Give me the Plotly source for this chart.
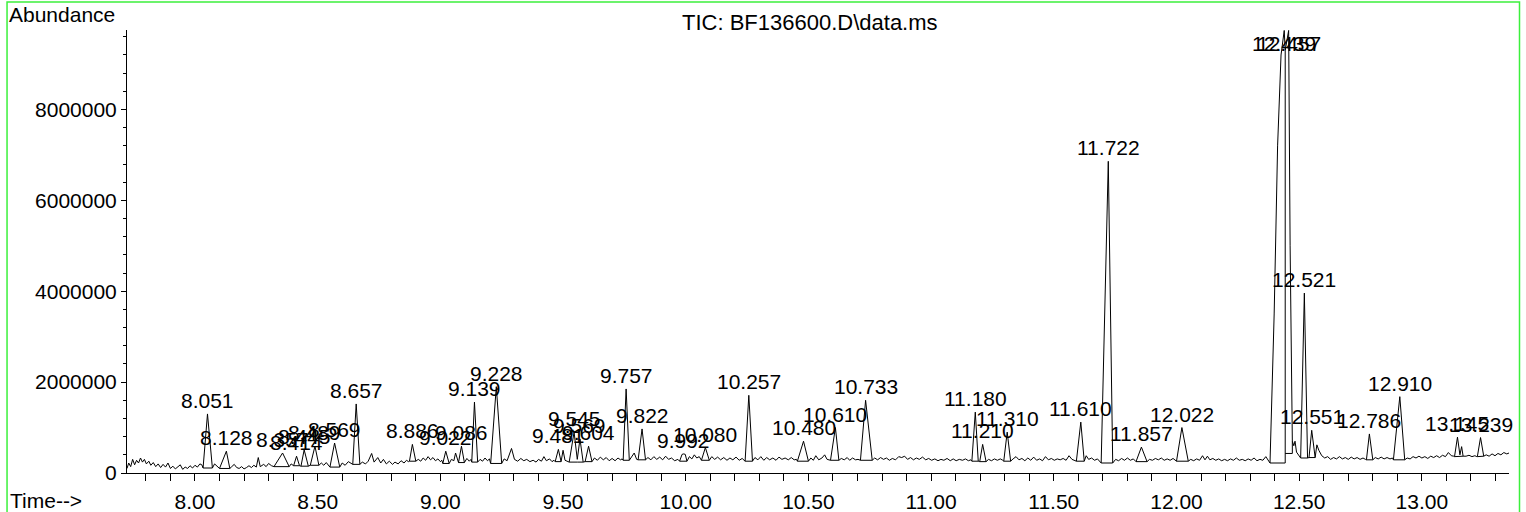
import plotly.graph_objects as go

# ---------------- data ----------------
# TIC trace: retention time (min) and abundance (millions of counts)
time_min = [
    7.723, 7.730, 7.738, 7.746, 7.754, 7.762, 7.770, 7.778, 7.786, 7.794, 7.802, 7.812, 7.820, 7.830, 7.840, 7.850, 7.860, 7.870, 7.880, 7.890,
    7.900, 7.910, 7.920, 7.930, 7.940, 7.950, 7.960, 7.970, 7.980, 7.990, 8.000, 8.010, 8.020, 8.028,
    8.033, 8.051, 8.071, 8.080, 8.090, 8.100, 8.128, 8.142, 8.150, 8.160,
    8.170, 8.180, 8.190, 8.200, 8.210, 8.220, 8.230, 8.240, 8.250, 8.258, 8.266, 8.280, 8.290, 8.300, 8.312,
    8.322, 8.357, 8.384, 8.392, 8.402, 8.414, 8.426, 8.432, 8.445, 8.462, 8.470, 8.489, 8.505,
    8.515, 8.525, 8.535, 8.543, 8.550, 8.569, 8.590, 8.600, 8.612, 8.625, 8.636, 8.643, 8.657, 8.672,
    8.682, 8.695, 8.706, 8.720, 8.730, 8.745, 8.757, 8.768, 8.780, 8.792, 8.805, 8.815, 8.828, 8.840, 8.852, 8.862, 8.870,
    8.874, 8.886, 8.900, 8.910, 8.920, 8.930, 8.940, 8.950, 8.960, 8.970, 8.980, 8.990, 9.000, 9.006,
    9.010, 9.022, 9.036, 9.045, 9.055, 9.062, 9.070, 9.074, 9.086, 9.098, 9.108, 9.118, 9.125,
    9.128, 9.139, 9.152, 9.162, 9.172, 9.182, 9.192, 9.200, 9.205, 9.228, 9.250,
    9.260, 9.272, 9.290, 9.302, 9.315, 9.328, 9.340, 9.352, 9.365, 9.378, 9.390, 9.400, 9.412, 9.422, 9.432, 9.445, 9.455, 9.463,
    9.468, 9.481, 9.492, 9.500, 9.508, 9.525, 9.545, 9.558, 9.569, 9.582, 9.590, 9.604, 9.618,
    9.628, 9.640, 9.652, 9.664, 9.676, 9.688, 9.700, 9.712, 9.724, 9.734, 9.741,
    9.745, 9.757, 9.770, 9.778, 9.790, 9.800, 9.806, 9.822, 9.836,
    9.846, 9.858, 9.870, 9.882, 9.894, 9.906, 9.918, 9.930, 9.942, 9.955, 9.968,
    9.975, 9.985, 9.992, 9.998, 10.005, 10.015, 10.025, 10.035, 10.045, 10.055, 10.061,
    10.064, 10.080, 10.096, 10.106, 10.118, 10.130, 10.142, 10.155, 10.168, 10.180, 10.192, 10.205, 10.218, 10.230, 10.239,
    10.242, 10.257, 10.272, 10.282, 10.294, 10.306, 10.318, 10.330, 10.342, 10.355, 10.368, 10.380, 10.392, 10.405, 10.418, 10.430, 10.442, 10.451,
    10.455, 10.480, 10.500, 10.510, 10.520, 10.530, 10.542, 10.555, 10.566, 10.576, 10.586,
    10.590, 10.610, 10.624, 10.634, 10.646, 10.658, 10.668, 10.680, 10.692, 10.702,
    10.712, 10.733, 10.760, 10.770, 10.782, 10.794, 10.806, 10.818, 10.830, 10.842, 10.855, 10.868, 10.880, 10.892,
    10.904, 10.916, 10.928, 10.940, 10.952, 10.965, 10.978, 10.990, 11.002, 11.015, 11.028, 11.040, 11.052, 11.065,
    11.078, 11.090, 11.102, 11.115, 11.128, 11.140, 11.152, 11.162,
    11.166, 11.180, 11.192, 11.198, 11.210, 11.224, 11.234, 11.246, 11.258, 11.270, 11.282, 11.292,
    11.296, 11.310, 11.324, 11.334, 11.346, 11.358, 11.370, 11.382, 11.394, 11.406, 11.418, 11.430,
    11.442, 11.454, 11.466, 11.478, 11.490, 11.502, 11.514, 11.526, 11.538, 11.550, 11.562, 11.574, 11.584,
    11.592, 11.610, 11.624, 11.632, 11.642, 11.654, 11.666, 11.678, 11.688,
    11.693, 11.722, 11.740, 11.752, 11.764, 11.776, 11.788, 11.800, 11.812, 11.824, 11.832,
    11.835, 11.857, 11.880, 11.890, 11.902, 11.914, 11.926, 11.938, 11.950, 11.962, 11.974, 11.986, 11.996,
    12.000, 12.022, 12.048, 12.058, 12.070, 12.082, 12.094, 12.106, 12.116, 12.126, 12.136, 12.148, 12.160,
    12.172, 12.184, 12.196, 12.208, 12.220, 12.232, 12.244, 12.256, 12.268, 12.280, 12.292, 12.304, 12.316, 12.328, 12.340, 12.352, 12.364, 12.374,
    12.381, 12.398, 12.412, 12.426, 12.439, 12.443, 12.457, 12.463, 12.468, 12.472, 12.478, 12.483, 12.489, 12.497, 12.502,
    12.506, 12.521, 12.534, 12.540, 12.551, 12.565, 12.572, 12.580, 12.592, 12.604, 12.616, 12.628, 12.640,
    12.652, 12.664, 12.676, 12.688, 12.700, 12.712, 12.724, 12.736, 12.748, 12.760, 12.770,
    12.774, 12.786, 12.800, 12.810, 12.822, 12.834, 12.846, 12.858, 12.870, 12.880,
    12.884, 12.910, 12.930, 12.940, 12.952, 12.964, 12.976, 12.988, 13.000, 13.012, 13.024, 13.036,
    13.048, 13.060, 13.072, 13.084, 13.096, 13.108, 13.120, 13.130,
    13.133, 13.145, 13.155, 13.162, 13.168, 13.180, 13.192, 13.204, 13.216, 13.224,
    13.226, 13.239, 13.252, 13.262, 13.274, 13.286, 13.298, 13.310, 13.322, 13.334, 13.346, 13.355,
]
abundance_millions = [
    0.10, 0.22, 0.14, 0.30, 0.18, 0.28, 0.22, 0.33, 0.24, 0.30, 0.20, 0.26, 0.17, 0.23, 0.14, 0.20, 0.12, 0.19, 0.13, 0.22,
    0.10, 0.15, 0.09, 0.14, 0.18, 0.08, 0.13, 0.10, 0.16, 0.11, 0.17, 0.13, 0.20, 0.18,
    0.11, 1.30, 0.11, 0.20, 0.16, 0.10, 0.48, 0.10, 0.14, 0.19,
    0.12, 0.10, 0.14, 0.09, 0.12, 0.16, 0.12, 0.17, 0.13, 0.34, 0.14, 0.19, 0.14, 0.21, 0.16,
    0.14, 0.44, 0.14, 0.20, 0.16, 0.37, 0.16, 0.15, 0.51, 0.15, 0.17, 0.59, 0.17,
    0.22, 0.17, 0.23, 0.18, 0.13, 0.66, 0.13, 0.22, 0.17, 0.25, 0.21, 0.19, 1.52, 0.19,
    0.24, 0.20, 0.26, 0.43, 0.24, 0.34, 0.22, 0.30, 0.20, 0.26, 0.19, 0.24, 0.20, 0.27, 0.22, 0.28, 0.25,
    0.26, 0.63, 0.26, 0.30, 0.26, 0.33, 0.28, 0.36, 0.29, 0.34, 0.27, 0.31, 0.25, 0.28,
    0.21, 0.48, 0.21, 0.30, 0.27, 0.44, 0.27, 0.23, 0.59, 0.23, 0.32, 0.26, 0.30,
    0.24, 1.56, 0.24, 0.30, 0.26, 0.33, 0.27, 0.31, 0.21, 1.90, 0.21,
    0.31, 0.27, 0.54, 0.30, 0.26, 0.32, 0.27, 0.30, 0.25, 0.28, 0.24, 0.30, 0.26, 0.36, 0.27, 0.31, 0.25, 0.28,
    0.25, 0.52, 0.25, 0.50, 0.28, 0.24, 0.90, 0.30, 0.75, 0.24, 0.25, 0.59, 0.25,
    0.33, 0.28, 0.35, 0.29, 0.34, 0.27, 0.32, 0.27, 0.33, 0.29, 0.31,
    0.28, 1.85, 0.28, 0.34, 0.44, 0.30, 0.29, 0.97, 0.29,
    0.34, 0.29, 0.36, 0.30, 0.35, 0.29, 0.37, 0.30, 0.33, 0.27, 0.30,
    0.26, 0.41, 0.42, 0.41, 0.26, 0.36, 0.31, 0.40, 0.33, 0.36, 0.30,
    0.28, 0.56, 0.28, 0.36, 0.30, 0.35, 0.29, 0.34, 0.28, 0.33, 0.29, 0.35, 0.28, 0.32, 0.28,
    0.26, 1.71, 0.26, 0.34, 0.29, 0.36, 0.28, 0.34, 0.29, 0.33, 0.28, 0.35, 0.30, 0.33, 0.29, 0.34, 0.29, 0.30,
    0.26, 0.70, 0.26, 0.33, 0.28, 0.38, 0.29, 0.33, 0.40, 0.30, 0.29,
    0.28, 1.00, 0.28, 0.32, 0.29, 0.34, 0.28, 0.33, 0.29, 0.30,
    0.28, 1.60, 0.28, 0.33, 0.29, 0.34, 0.30, 0.33, 0.28, 0.32, 0.29, 0.36, 0.34, 0.37,
    0.30, 0.34, 0.29, 0.33, 0.30, 0.35, 0.29, 0.32, 0.28, 0.31, 0.27, 0.30, 0.28, 0.32,
    0.27, 0.31, 0.27, 0.30, 0.28, 0.31, 0.27, 0.29,
    0.26, 1.34, 0.26, 0.25, 0.63, 0.25, 0.30, 0.27, 0.31, 0.28, 0.31, 0.28,
    0.26, 0.90, 0.26, 0.31, 0.36, 0.29, 0.32, 0.27, 0.33, 0.28, 0.35, 0.28,
    0.31, 0.27, 0.36, 0.29, 0.32, 0.28, 0.31, 0.29, 0.32, 0.28, 0.38, 0.30, 0.28,
    0.26, 1.12, 0.26, 0.38, 0.30, 0.33, 0.28, 0.31, 0.25,
    0.22, 6.86, 0.22, 0.30, 0.27, 0.32, 0.28, 0.33, 0.28, 0.31, 0.26,
    0.25, 0.57, 0.25, 0.30, 0.28, 0.32, 0.29, 0.33, 0.28, 0.31, 0.28, 0.32, 0.27,
    0.26, 1.00, 0.26, 0.30, 0.27, 0.31, 0.28, 0.38, 0.29, 0.37, 0.29, 0.32, 0.28,
    0.31, 0.27, 0.30, 0.27, 0.31, 0.28, 0.33, 0.28, 0.30, 0.27, 0.31, 0.28, 0.33, 0.27, 0.30, 0.28, 0.36, 0.26,
    0.22, 3.50, 7.20, 9.20, 9.74, 9.30, 9.74, 5.00, 1.50, 0.70, 0.60, 0.70, 0.46, 0.40, 0.35,
    0.33, 3.96, 0.33, 0.34, 0.94, 0.34, 0.62, 0.50, 0.38, 0.33, 0.36, 0.30, 0.34,
    0.31, 0.36, 0.31, 0.34, 0.30, 0.35, 0.31, 0.34, 0.30, 0.33, 0.30,
    0.29, 0.86, 0.29, 0.34, 0.31, 0.35, 0.31, 0.34, 0.31, 0.33,
    0.29, 1.68, 0.29, 0.33, 0.31, 0.36, 0.33, 0.37, 0.33, 0.36, 0.32, 0.37,
    0.34, 0.38, 0.34, 0.39, 0.36, 0.45, 0.38, 0.37,
    0.36, 0.79, 0.40, 0.58, 0.37, 0.37, 0.39, 0.36, 0.38, 0.36,
    0.36, 0.78, 0.37, 0.40, 0.37, 0.42, 0.38, 0.43, 0.40, 0.45, 0.42, 0.44,
]

# integrated peaks: labelled retention time and apex abundance (millions)
peak_rt = [8.051, 8.128, 8.357, 8.414, 8.445, 8.489, 8.569, 8.657, 8.886, 9.022,
           9.086, 9.139, 9.228, 9.481, 9.545, 9.569, 9.604, 9.757, 9.822, 9.992,
           10.080, 10.257, 10.480, 10.610, 10.733, 11.180, 11.210, 11.310, 11.610, 11.722,
           11.857, 12.022, 12.439, 12.457, 12.521, 12.551, 12.786, 12.910, 13.145, 13.239]
peak_apex_millions = [1.30, 0.48, 0.44, 0.37, 0.51, 0.59, 0.66, 1.52, 0.63, 0.48,
                      0.59, 1.56, 1.90, 0.52, 0.90, 0.75, 0.59, 1.85, 0.97, 0.42,
                      0.56, 1.71, 0.70, 1.00, 1.60, 1.34, 0.63, 0.90, 1.12, 6.86,
                      0.57, 1.00, 9.74, 9.74, 3.96, 0.94, 0.86, 1.68, 0.79, 0.78]
# integration baselines (start / end of each peak)
bl_start_min = [8.033, 8.100, 8.322, 8.402, 8.432, 8.470, 8.550, 8.643, 8.874, 9.010,
                9.074, 9.128, 9.205, 9.468, 9.525, 9.558, 9.590, 9.745, 9.806, 9.975,
                10.064, 10.242, 10.455, 10.590, 10.712, 11.166, 11.198, 11.296, 11.592, 11.693,
                11.835, 12.000, 12.381, 12.443, 12.506, 12.540, 12.774, 12.884, 13.133, 13.226]
bl_start_millions = [0.11, 0.10, 0.14, 0.16, 0.15, 0.17, 0.13, 0.19, 0.26, 0.21,
                     0.23, 0.24, 0.21, 0.25, 0.24, 0.24, 0.25, 0.28, 0.29, 0.26,
                     0.28, 0.26, 0.26, 0.28, 0.28, 0.26, 0.25, 0.26, 0.26, 0.22,
                     0.25, 0.26, 0.22, 0.43, 0.33, 0.34, 0.29, 0.29, 0.36, 0.36]
bl_end_min = [8.071, 8.142, 8.384, 8.426, 8.462, 8.505, 8.590, 8.672, 8.900, 9.036,
              9.098, 9.152, 9.250, 9.492, 9.558, 9.582, 9.618, 9.770, 9.836, 10.005,
              10.096, 10.272, 10.500, 10.624, 10.760, 11.192, 11.224, 11.324, 11.624, 11.740,
              11.880, 12.048, 12.443, 12.472, 12.534, 12.565, 12.800, 12.930, 13.168, 13.252]
bl_end_millions = [0.11, 0.10, 0.14, 0.16, 0.15, 0.17, 0.13, 0.19, 0.26, 0.21,
                   0.23, 0.24, 0.21, 0.25, 0.24, 0.24, 0.25, 0.28, 0.29, 0.26,
                   0.28, 0.26, 0.26, 0.28, 0.28, 0.26, 0.25, 0.26, 0.26, 0.22,
                   0.25, 0.26, 0.22, 0.43, 0.33, 0.34, 0.29, 0.29, 0.37, 0.37]
# drop lines between merged peaks
drop_min = [12.443, 12.472]
drop_low_millions = [0.22, 0.43]
drop_high_millions = [9.30, 0.70]

x_range = [7.723, 13.355]
y_top_millions = 9.75
y_tick_values = [0, 2000000, 4000000, 6000000, 8000000]
y_tick_labels = ["0", "2000000", "4000000", "6000000", "8000000"]

title_text = "TIC: BF136600.D\\data.ms"

assert len(time_min) == len(abundance_millions)

FONT = "Liberation Sans, Arial, sans-serif"
FS = 21
M = 1e6

fig = go.Figure()

fig.add_trace(go.Scatter(
    x=time_min, y=[a * M for a in abundance_millions],
    mode="lines", line=dict(color="#000000", width=1), hoverinfo="skip",
))

bx, by = [], []
for t0, a0, t1, a1 in zip(bl_start_min, bl_start_millions, bl_end_min, bl_end_millions):
    bx += [t0, t1, None]
    by += [a0 * M, a1 * M, None]
for t, lo, hi in zip(drop_min, drop_low_millions, drop_high_millions):
    bx += [t, t, None]
    by += [lo * M, hi * M, None]
fig.add_trace(go.Scatter(
    x=bx, y=by, mode="lines", line=dict(color="#000000", width=1),
    hoverinfo="skip", connectgaps=False,
))

annotations = []
for rt, ap in zip(peak_rt, peak_apex_millions):
    top = ap >= 0.95 * y_top_millions
    annotations.append(dict(
        x=rt, y=ap * M, xref="x", yref="y", text=f"{rt:.3f}", showarrow=False,
        xanchor="center", yanchor="top" if top else "bottom",
        font=dict(family=FONT, size=FS, color="#000000"),
    ))

annotations += [
    dict(x=-0.0868, y=1.034, xref="paper", yref="paper", text="Abundance",
         showarrow=False, xanchor="left", yanchor="middle",
         font=dict(family=FONT, size=FS, color="#000000")),
    dict(x=-0.0861, y=-0.062, xref="paper", yref="paper", text="Time-->",
         showarrow=False, xanchor="left", yanchor="middle",
         font=dict(family=FONT, size=FS, color="#000000")),
    dict(x=0.4942, y=1.018, xref="paper", yref="paper", text=title_text,
         showarrow=False, xanchor="center", yanchor="middle",
         font=dict(family=FONT, size=22, color="#000000")),
]

fig.update_layout(
    width=1526, height=512,
    margin=dict(l=127, r=17, t=30, b=39, pad=0),
    paper_bgcolor="#ffffff", plot_bgcolor="#ffffff",
    showlegend=False,
    font=dict(family=FONT, size=FS, color="#000000"),
    annotations=annotations,
    shapes=[dict(type="rect", xref="paper", yref="paper",
                 x0=-0.0868, x1=1.0076, y0=-0.095, y1=1.0633,
                 line=dict(color="#3cf03c", width=1.5), fillcolor="rgba(0,0,0,0)")],
    xaxis=dict(
        range=x_range, showgrid=False, zeroline=False, automargin=False,
        showline=True, linecolor="#000000", linewidth=1,
        ticks="outside", ticklen=7, tickwidth=1, tickcolor="#000000",
        tick0=8.0, dtick=0.5, tickformat=".2f", ticklabelstandoff=3,
        tickfont=dict(family=FONT, size=FS, color="#000000"),
        minor=dict(ticks="outside", ticklen=7, tickwidth=1, tickcolor="#000000",
                   tick0=8.0, dtick=0.1, showgrid=False),
    ),
    yaxis=dict(
        range=[0, y_top_millions * M], showgrid=False, zeroline=False, automargin=False,
        showline=True, linecolor="#000000", linewidth=1,
        ticks="outside", ticklen=5, tickwidth=1, tickcolor="#000000",
        tickmode="array", tickvals=y_tick_values, ticktext=y_tick_labels,
        tickfont=dict(family=FONT, size=FS, color="#000000"),
        minor=dict(ticks="outside", ticklen=3, tickwidth=1, tickcolor="#000000",
                   tick0=0, dtick=400000, showgrid=False),
    ),
)

fig.write_html("out.html",
               config={"displayModeBar": False},
               post_script="document.body.style.margin='0';document.body.style.overflow='hidden';")
